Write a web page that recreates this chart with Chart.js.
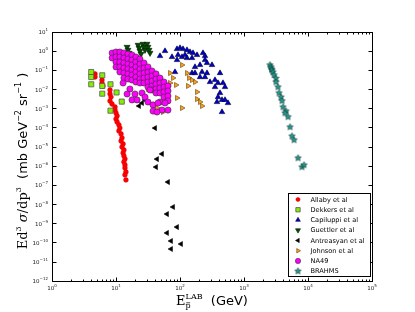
<!DOCTYPE html>
<html lang="en">
<head>
<meta charset="UTF-8">
<title>Antiproton invariant cross sections</title>
<script src="https://cdn.jsdelivr.net/npm/chart.js"></script>
<style>
  html, body { margin: 0; padding: 0; background: #fff; }
</style>
</head>
<body>
<canvas id="chart" width="415" height="312"></canvas>
<script>
// values: E (GeV) and E d3sigma/dp3 (mb GeV^-2 sr^-1)
const allabyE = [4.7, 4.7, 6.04, 6.04, 6.26, 8.06, 8.06, 8.35, 8.06, 8.66, 9.65, 9.65, 10.0, 10.4, 10.0, 10.4, 11.1,
  11.5, 11.1, 12.0, 12.4, 12.0, 12.9, 12.4, 13.3, 12.9, 13.3, 13.8, 13.3, 13.8, 13.8, 14.3, 13.8, 14.3];
const allabyV = [6.07e-2, 4.24e-2, 2.95e-2, 2.06e-2, 1.44e-2, 8.9e-3, 5.5e-3, 3.8e-3, 2.37e-3, 1.65e-3, 1.15e-3, 8.0e-4,
  5.6e-4, 3.9e-4, 2.7e-4, 1.9e-4, 1.33e-4, 9.2e-5, 6.5e-5, 4.5e-5, 2.8e-5, 1.94e-5, 1.35e-5, 9.4e-6, 6.6e-6, 4.6e-6,
  3.2e-6, 2.23e-6, 1.56e-6, 1.09e-6, 7.6e-7, 4.7e-7, 3.3e-7, 1.8e-7];

const dekkersE = [4.1, 4.1, 4.1, 6.1, 6.1, 6.1, 8.2, 10.2, 12.3, 8.2];
const dekkersV = [0.077, 0.042, 0.0176, 0.052, 0.0144, 0.0057, 0.0176, 0.0066, 0.0022, 0.00074];

const capiluppiE = [48.7, 58.3, 75, 89.8, 100, 111.4, 128.6, 143.3, 159.6, 184.4, 228.7, 245.8, 93.1, 107.5, 119.7,
  89.8, 128.6, 154, 171.5, 205.4, 245.8, 316.2, 83.5, 154, 171.5, 220.8, 264.1, 205.4, 245.8, 294.4, 352.4, 421.7,
  392.6, 469.6, 504.8, 352.4, 421.7, 392.6, 453.2, 504.8, 562.3, 378.6, 453.2, 264.1];
const capiluppiV = [0.527, 0.96, 0.468, 1.22, 1.38, 1.22, 1.08, 0.85, 0.755, 0.594, 0.755, 0.527, 0.594, 0.468, 0.594,
  0.326, 0.415, 0.415, 0.141, 0.179, 0.326, 0.179, 0.077, 0.068, 0.068, 0.077, 0.068, 0.042, 0.042, 0.0232, 0.0295,
  0.068, 0.0206, 0.0206, 0.0127, 0.0127, 0.0062, 0.0038, 0.0027, 0.0027, 0.00186, 0.0021, 0.00063, 0.228];

const guettlerE = [10.7, 11.5, 14.9, 15.4, 16.0, 16.5, 22.1, 22.9, 23.7, 24.6, 26.4, 27.4, 28.4, 30.5, 31.6, 32.8, 34.0];
const guettlerV = [0.853, 0.594, 1.55, 1.08, 0.755, 0.527, 1.98, 1.38, 0.96, 0.67, 2.23, 1.55, 1.08, 2.23, 1.55, 1.08, 0.755];

const antreasyanE = [22.9, 28.4, 25.5, 40.7, 52.3, 43.7, 42.2, 64.9, 77.8, 62.6, 89.8, 62.6, 72.3, 103.7, 72.3];
const antreasyanV = [1.3e-3, 2.7e-3, 1.86e-3, 9.2e-5, 4.1e-6, 2.2e-6, 8.5e-7, 1.4e-7, 7.0e-9, 3.0e-9, 6.3e-10,
  3.1e-10, 1.18e-10, 8.2e-11, 4.5e-11];

const johnsonE = [69.8, 77.8, 69.8, 86.6, 107.5, 128.6, 138.3, 154, 133.4, 171.5, 184.4, 89.8, 184.4, 205.4, 220.8,
  107.5, 54.2, 43.7, 31.6];
const johnsonV = [0.068, 0.0375, 0.0206, 0.0162, 0.179, 0.068, 0.0375, 0.0295, 0.0144, 0.0232, 0.0070, 0.0034,
  0.0030, 0.0021, 0.0013, 0.00102, 0.00063, 0.00102, 0.0100];

const na49E = [8.7, 8.7,
  10, 10, 10, 10,
  11.5, 11.5, 11.5, 11.5, 11.5,
  13.3, 13.3, 13.3, 13.3, 13.3, 13.3,
  15.4, 15.4, 15.4, 15.4, 15.4, 15.4,
  17.8, 17.8, 17.8, 17.8, 17.8, 17.8,
  20.5, 20.5, 20.5, 20.5, 20.5, 20.5,
  23.7, 23.7, 23.7, 23.7, 23.7, 23.7,
  27.4, 27.4, 27.4, 27.4, 27.4,
  31.6, 31.6, 31.6, 31.6, 31.6,
  36.5, 36.5, 36.5, 36.5, 36.5,
  42.2, 42.2, 42.2, 42.2, 42.2,
  48.7, 48.7, 48.7, 48.7,
  56.2, 56.2, 56.2, 56.2,
  64.9, 64.9, 64.9, 64.9,
  12.9, 16.5, 14.9, 19.8, 17.8, 25.5, 28.4, 34.0, 31.6, 37.9, 48.7, 52.3, 37.9, 43.7, 64.9, 45.3, 58.3, 21.3];
const na49V = [0.755, 0.415,
  0.853, 0.468, 0.256, 0.141,
  0.853, 0.468, 0.256, 0.141, 0.077,
  0.755, 0.415, 0.228, 0.125, 0.068, 0.0375,
  0.67, 0.368, 0.202, 0.111, 0.061, 0.0333,
  0.594, 0.326, 0.179, 0.098, 0.054, 0.0295,
  0.468, 0.256, 0.141, 0.077, 0.042, 0.0232,
  0.368, 0.202, 0.111, 0.061, 0.0333, 0.0206,
  0.228, 0.125, 0.068, 0.0375, 0.0206,
  0.141, 0.077, 0.042, 0.0232, 0.0127,
  0.087, 0.048, 0.0262, 0.0144, 0.0089,
  0.061, 0.0333, 0.0183, 0.0100, 0.0062,
  0.0375, 0.0206, 0.0113, 0.0062,
  0.0232, 0.0127, 0.0070, 0.0038,
  0.0144, 0.0079, 0.0043, 0.0024,
  0.0206, 0.0100, 0.0055, 0.0055, 0.0027, 0.0062, 0.0038, 0.0089, 0.0021, 0.00147, 0.0021, 0.0008, 0.00071,
  0.00063, 0.0008, 0.00186, 0.00186, 0.0027];

const brahmsE = [2548, 2642, 2700, 2738, 2838, 2943, 3162, 3162, 3398, 3524, 3786, 3925, 4068, 4529, 4370, 4870, 5233,
  5623, 6043, 6981, 8058, 8660];
const brahmsV = [0.179, 0.141, 0.11, 0.098, 0.077, 0.054, 0.036, 0.0232, 0.0127, 0.0062, 0.0038, 0.0024, 0.00115,
  7.1e-4, 5.6e-4, 3.5e-4, 1.04e-4, 3.5e-5, 2.2e-5, 2.5e-6, 8.5e-7, 1.08e-6];

const xTickExp = [0, 1, 2, 3, 4, 5];
const yTickExp = [1, 0, -1, -2, -3, -4, -5, -6, -7, -8, -9, -10, -11, -12];

// filled 5-point star marker
function makeStar(r, fill, stroke) {
  const c = document.createElement('canvas');
  const s = Math.ceil(r * 2 + 2);
  c.width = s; c.height = s;
  const g = c.getContext('2d');
  g.beginPath();
  for (let i = 0; i < 10; i++) {
    const ang = -Math.PI / 2 + i * Math.PI / 5;
    const rr = i % 2 ? r * 0.45 : r;
    g.lineTo(s / 2 + rr * Math.cos(ang), s / 2 + rr * Math.sin(ang));
  }
  g.closePath();
  g.fillStyle = fill; g.fill();
  g.strokeStyle = stroke; g.lineWidth = 0.7; g.stroke();
  return c;
}

const series = [
  { label: 'Allaby et al', E: allabyE, V: allabyV, style: 'circle', r: 2.4, rot: 0, bg: '#ff0000', bc: '#dd0000', bw: 0.5 },
  { label: 'Dekkers et al', E: dekkersE, V: dekkersV, style: 'rect', r: 3.6, rot: 0, bg: '#84f000', bc: '#555555', bw: 0.8 },
  { label: 'Capiluppi et al', E: capiluppiE, V: capiluppiV, style: 'triangle', r: 3.2, rot: 0, bg: '#0000cc', bc: '#000033', bw: 0.6 },
  { label: 'Guettler et al', E: guettlerE, V: guettlerV, style: 'triangle', r: 3.4, rot: 180, bg: '#004d00', bc: '#001a00', bw: 0.6 },
  { label: 'Antreasyan et al', E: antreasyanE, V: antreasyanV, style: 'triangle', r: 3.0, rot: -90, bg: '#000000', bc: '#000000', bw: 0.5 },
  { label: 'Johnson et al', E: johnsonE, V: johnsonV, style: 'triangle', r: 3.0, rot: 90, bg: '#f5a020', bc: '#6b4300', bw: 0.6 },
  { label: 'NA49', E: na49E, V: na49V, style: 'circle', r: 3.1, rot: 0, bg: '#ff00ff', bc: '#333333', bw: 0.6 },
  { label: 'BRAHMS', E: brahmsE, V: brahmsV, style: makeStar(3.3, '#1fa596', '#0a3a35'), r: 3.3, rot: 0, bg: '#1fa596', bc: '#0a3a35', bw: 0 }
];

const SERIF = '"DejaVu Serif", "Liberation Serif", serif';
const SANS = '"DejaVu Sans", sans-serif';

function drawRich(ctx, segs, x, y) {
  let cx = x;
  segs.forEach(s => {
    ctx.font = s.f;
    const w = ctx.measureText(s.t).width;
    ctx.fillText(s.t, cx, y + (s.dy || 0));
    if (s.bar) ctx.fillRect(cx + 0.6, y + (s.dy || 0) - s.bar, w - 1.2, 0.7);
    if (!s.noAdv) cx += w;
  });
  return cx - x;
}
function richWidth(ctx, segs) {
  let w = 0;
  segs.forEach(s => { ctx.font = s.f; if (!s.noAdv) w += ctx.measureText(s.t).width; });
  return w;
}
function powLabel(exp) {
  return [
    { t: '10', f: '5.5px ' + SANS },
    { t: String(exp).replace('-', '\u2212'), f: '4px ' + SANS, dy: -3 }
  ];
}

const framePlugin = {
  id: 'frame',
  afterDatasetsDraw(chart) {
    const ctx = chart.ctx, a = chart.chartArea;
    const xs = chart.scales.x, ys = chart.scales.y;
    const L = Math.round(a.left) + 0.5, R = Math.round(a.right) + 0.5;
    const T = Math.round(a.top) + 0.5, B = Math.round(a.bottom) + 0.5;
    ctx.save();
    ctx.strokeStyle = '#000'; ctx.fillStyle = '#000'; ctx.lineWidth = 1;
    ctx.strokeRect(L, T, R - L, B - T);

    // x ticks, inward on bottom and top
    ctx.beginPath();
    xTickExp.forEach((e, i) => {
      const px = Math.round(xs.getPixelForValue(Math.pow(10, e))) + 0.5;
      ctx.moveTo(px, B); ctx.lineTo(px, B - 4);
      ctx.moveTo(px, T); ctx.lineTo(px, T + 4);
      if (i < xTickExp.length - 1) {
        for (let m = 2; m <= 9; m++) {
          const mx = Math.round(xs.getPixelForValue(m * Math.pow(10, e))) + 0.5;
          ctx.moveTo(mx, B); ctx.lineTo(mx, B - 2);
          ctx.moveTo(mx, T); ctx.lineTo(mx, T + 2);
        }
      }
    });
    // y ticks, inward on left and right
    yTickExp.forEach(e => {
      const py = Math.round(ys.getPixelForValue(Math.pow(10, e))) + 0.5;
      ctx.moveTo(L, py); ctx.lineTo(L + 4, py);
      ctx.moveTo(R, py); ctx.lineTo(R - 4, py);
    });
    ctx.stroke();

    // tick labels
    ctx.textBaseline = 'alphabetic';
    ctx.fillStyle = '#222';
    xTickExp.forEach(e => {
      const segs = powLabel(e);
      const px = xs.getPixelForValue(Math.pow(10, e));
      drawRich(ctx, segs, px - richWidth(ctx, segs) / 2, a.bottom + 9);
    });
    yTickExp.forEach(e => {
      const segs = powLabel(e);
      const py = ys.getPixelForValue(Math.pow(10, e));
      drawRich(ctx, segs, a.left - 4 - richWidth(ctx, segs), py + 2.5);
    });

    // axis titles
    ctx.fillStyle = '#000';
    const xt = [
      { t: 'E', f: '13px ' + SERIF },
      { t: 'p', f: '8px ' + SERIF, dy: 3, noAdv: true, bar: 5.5 },
      { t: 'LAB', f: '8px ' + SERIF, dy: -6 },
      { t: '  (GeV)', f: '13px ' + SANS }
    ];
    drawRich(ctx, xt, 212 - richWidth(ctx, xt) / 2, 305);

    const yt = [
      { t: 'Ed', f: '13px ' + SERIF },
      { t: '3', f: '8px ' + SERIF, dy: -6 },
      { t: ' ', f: '13px ' + SERIF },
      { t: '\u03C3', f: 'italic 13px ' + SERIF },
      { t: '/dp', f: '13px ' + SERIF },
      { t: '3', f: '8px ' + SERIF, dy: -6 },
      { t: '  (mb GeV', f: '13px ' + SANS },
      { t: '\u22122', f: '8px ' + SANS, dy: -6 },
      { t: ' sr', f: '13px ' + SANS },
      { t: '\u22121', f: '8px ' + SANS, dy: -6 },
      { t: ' )', f: '13px ' + SANS }
    ];
    ctx.save();
    ctx.translate(27, 161);
    ctx.rotate(-Math.PI / 2);
    drawRich(ctx, yt, -richWidth(ctx, yt) / 2, 0);
    ctx.restore();

    // legend box
    const lx = 288.5, ly = 193.5, lw = 82, lh = 83;
    ctx.fillStyle = '#fff';
    ctx.fillRect(lx, ly, lw, lh);
    ctx.strokeStyle = '#000';
    ctx.strokeRect(lx, ly, lw, lh);
    ctx.font = '6.6px ' + SANS;
    ctx.textBaseline = 'middle';
    chart.data.datasets.forEach((ds, i) => {
      const yy = 199.5 + i * 10.24;
      ctx.save();
      ctx.fillStyle = ds.backgroundColor;
      ctx.strokeStyle = ds.borderColor;
      ctx.lineWidth = ds.borderWidth;
      Chart.helpers.drawPoint(ctx, {
        pointStyle: ds.pointStyle, radius: ds.pointRadius * 0.85,
        rotation: ds.rotation, borderWidth: ds.borderWidth
      }, 298, yy);
      ctx.restore();
      ctx.fillStyle = '#000';
      ctx.fillText(ds.label, 310.5, yy + 0.5);
    });
    ctx.restore();
  }
};

const chart = new Chart(document.getElementById('chart').getContext('2d'), {
  type: 'scatter',
  data: {
    datasets: series.map((s, i) => ({
      label: s.label,
      data: s.E.map((e, k) => ({ x: e, y: s.V[k] })),
      pointStyle: s.style,
      pointRadius: s.r,
      rotation: s.rot,
      backgroundColor: s.bg,
      borderColor: s.bc,
      borderWidth: s.bw,
      order: series.length - i
    }))
  },
  options: {
    responsive: false,
    animation: false,
    layout: { padding: { left: 52, right: 43, top: 31.5, bottom: 31.3 } },
    scales: {
      x: { type: 'logarithmic', min: 1, max: 1e5, display: false },
      y: { type: 'logarithmic', min: 1e-12, max: 10, display: false }
    },
    plugins: { legend: { display: false }, tooltip: { enabled: false } }
  },
  plugins: [framePlugin]
});
</script>
</body>
</html>
